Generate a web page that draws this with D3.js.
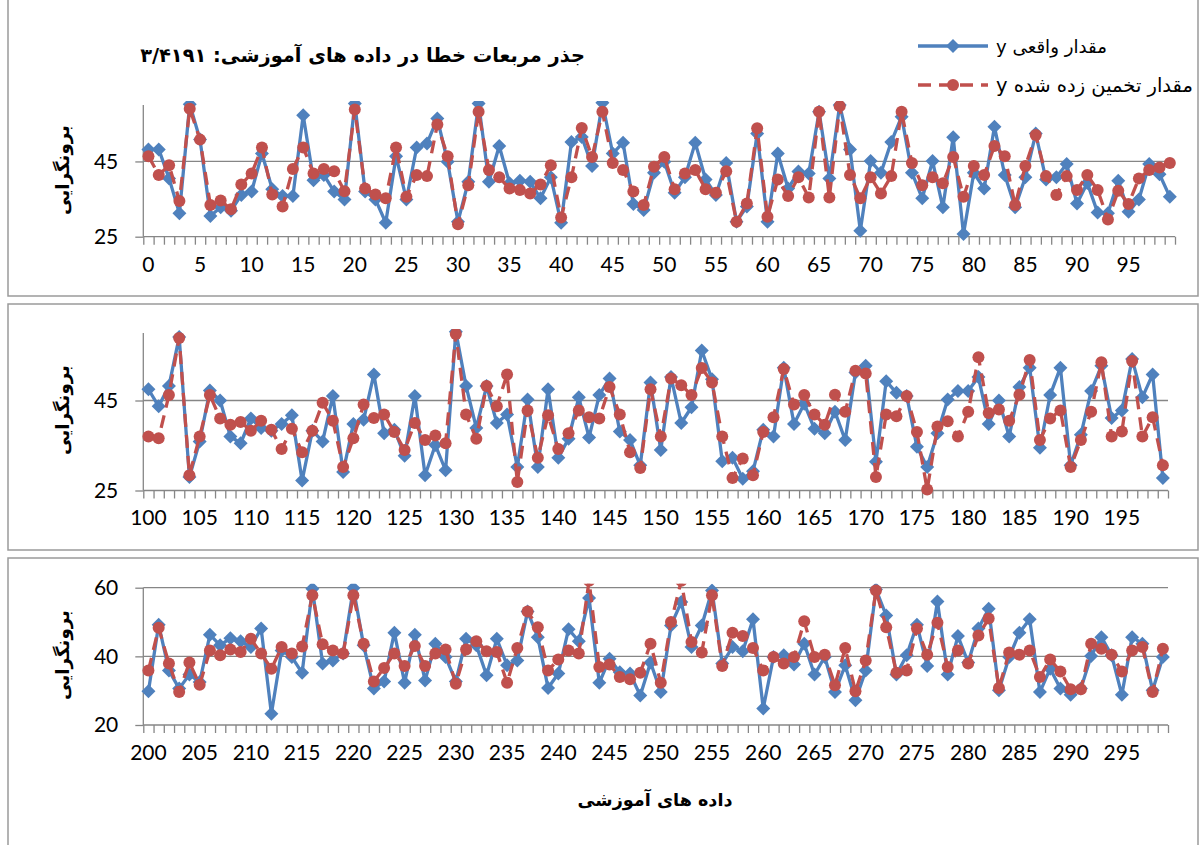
<!DOCTYPE html>
<html>
<head>
<meta charset="utf-8">
<script src="https://cdn.jsdelivr.net/npm/d3@7"></script>
<style>
  body { margin: 0; background: #fff; }
  svg { display: block; }
</style>
</head>
<body>
<div id="chart"></div>
<script>
// values, one array per panel and series

// training samples 0..99
const actual1 = [48.2, 48.2, 40.5, 31.2, 60.2, 50.8, 30.5, 32.8, 31.9, 36.1,
  37.0, 47.1, 37.6, 35.8, 35.8, 57.3, 40.0, 41.4, 37.0, 34.9,
  60.4, 37.0, 34.9, 28.7, 46.4, 34.9, 48.7, 49.8, 56.4, 44.9,
  29.0, 39.6, 60.4, 39.6, 49.1, 39.2, 39.9, 39.6, 35.2, 40.8,
  28.7, 50.2, 51.5, 43.8, 60.6, 47.1, 50.0, 33.7, 32.1, 42.0,
  44.9, 36.7, 40.8, 50.0, 40.2, 36.1, 44.6, 29.0, 33.0, 52.4,
  29.0, 47.1, 37.8, 42.3, 41.8, 58.2, 40.5, 60.0, 48.2, 26.6,
  45.1, 42.0, 50.2, 56.9, 42.0, 35.2, 45.1, 32.8, 51.4, 25.7,
  42.0, 37.8, 54.2, 41.4, 32.8, 40.8, 52.4, 40.2, 40.8, 44.3,
  33.8, 39.3, 31.4, 31.2, 39.9, 31.6, 34.9, 44.3, 41.6, 35.6];
const pred1 = [46.4, 41.4, 44.0, 34.5, 59.0, 50.8, 33.4, 34.6, 32.3, 38.9,
  41.8, 48.7, 36.2, 33.0, 43.0, 48.7, 41.8, 43.0, 42.4, 37.1,
  58.8, 37.8, 36.2, 35.2, 48.7, 35.6, 41.4, 41.1, 54.8, 46.4,
  28.3, 38.7, 58.2, 42.7, 40.8, 37.8, 37.4, 36.5, 38.9, 44.0,
  30.1, 40.8, 53.9, 46.2, 58.2, 44.6, 42.7, 37.0, 33.4, 43.6,
  46.2, 37.6, 41.8, 42.7, 37.6, 36.7, 42.4, 29.0, 33.8, 53.8,
  30.3, 40.2, 35.8, 40.8, 35.4, 58.2, 35.4, 59.7, 41.4, 35.2,
  40.8, 36.5, 41.1, 58.2, 44.6, 38.7, 40.8, 39.2, 46.2, 35.6,
  43.8, 41.4, 49.1, 46.4, 33.4, 43.8, 52.0, 41.1, 36.1, 41.1,
  37.4, 41.4, 37.4, 29.6, 37.2, 33.7, 40.5, 42.7, 43.4, 44.6];

// training samples 100..199
const actual2 = [47.5, 43.7, 48.2, 59.1, 28.0, 35.9, 47.2, 45.0, 37.0, 35.5,
  41.0, 38.9, 38.3, 39.8, 41.7, 27.2, 38.3, 35.9, 46.0, 29.1,
  39.8, 40.7, 50.8, 37.7, 38.5, 32.7, 46.0, 28.4, 35.1, 29.5,
  60.3, 48.2, 38.9, 48.2, 40.0, 41.9, 30.2, 45.2, 30.2, 47.5,
  32.3, 36.5, 45.7, 36.8, 46.2, 49.9, 38.1, 36.2, 30.6, 49.0,
  34.0, 50.2, 40.0, 43.5, 56.1, 49.7, 31.5, 32.3, 27.6, 29.3,
  38.5, 37.0, 52.3, 39.8, 44.3, 38.7, 37.7, 42.5, 36.2, 51.2,
  52.7, 31.4, 49.3, 46.7, 46.0, 34.7, 30.2, 37.7, 45.2, 47.1,
  47.1, 50.2, 39.8, 45.0, 37.0, 48.0, 52.3, 34.5, 46.2, 52.3,
  30.6, 37.4, 47.1, 52.7, 41.1, 42.8, 54.2, 45.7, 50.8, 27.8];
const pred2 = [37.0, 36.6, 46.2, 58.9, 28.4, 37.0, 46.2, 41.0, 39.6, 40.2,
  38.3, 40.5, 38.5, 34.2, 38.7, 33.5, 38.3, 44.5, 40.5, 30.2,
  36.6, 44.1, 41.1, 41.9, 38.0, 34.0, 40.0, 36.2, 37.2, 35.5,
  59.8, 41.9, 36.5, 48.2, 43.7, 50.8, 26.9, 42.8, 32.3, 41.7,
  34.2, 37.7, 42.8, 41.3, 41.0, 48.0, 41.9, 33.5, 30.0, 47.5,
  37.0, 49.9, 48.4, 46.2, 52.2, 49.0, 37.0, 27.8, 32.1, 28.4,
  38.0, 41.3, 52.0, 44.1, 46.2, 41.9, 39.6, 46.3, 42.5, 51.6,
  51.0, 28.0, 41.9, 41.5, 46.0, 38.0, 25.2, 39.2, 40.4, 37.0,
  42.5, 54.6, 42.2, 43.0, 40.5, 46.3, 54.0, 36.2, 41.0, 42.8,
  30.2, 36.2, 42.5, 53.5, 37.0, 38.1, 53.8, 37.0, 41.3, 30.6];

// training samples 200..299
const actual3 = [29.8, 49.2, 35.9, 30.6, 34.7, 32.5, 46.3, 43.2, 45.3, 44.4,
  42.7, 48.1, 23.3, 41.7, 39.8, 35.2, 59.7, 37.9, 38.8, 40.8,
  59.9, 43.2, 30.6, 32.7, 46.9, 32.3, 46.3, 33.0, 43.7, 39.8,
  32.7, 45.1, 43.2, 34.5, 45.1, 37.4, 38.8, 53.1, 45.6, 30.8,
  35.0, 47.9, 44.4, 57.0, 32.3, 39.3, 35.4, 35.0, 28.6, 38.2,
  29.6, 49.0, 55.8, 42.7, 49.0, 59.2, 37.9, 42.7, 41.5, 50.8,
  24.8, 39.8, 40.3, 37.6, 43.7, 34.7, 39.8, 29.6, 37.4, 27.2,
  35.9, 59.5, 51.9, 34.7, 40.3, 49.2, 37.2, 56.0, 34.7, 45.9,
  38.2, 48.1, 53.9, 30.1, 39.8, 46.9, 50.8, 29.6, 36.4, 30.6,
  28.8, 30.6, 40.1, 45.6, 40.3, 28.8, 45.6, 43.7, 30.1, 39.8];
const pred3 = [35.9, 48.3, 37.9, 29.6, 38.2, 31.7, 41.7, 40.3, 42.0, 41.3,
  45.1, 40.8, 36.4, 42.7, 40.8, 42.9, 57.8, 43.5, 41.7, 40.8,
  57.8, 43.7, 32.7, 36.6, 40.8, 37.2, 43.0, 37.2, 40.8, 42.0,
  32.0, 42.0, 44.4, 41.5, 41.3, 32.3, 42.4, 53.1, 48.5, 35.9,
  39.1, 41.7, 40.8, 62.0, 36.9, 37.6, 34.0, 33.3, 35.2, 43.7,
  32.3, 50.0, 62.0, 44.2, 41.1, 57.8, 37.2, 46.9, 45.9, 42.4,
  35.9, 39.8, 37.9, 39.8, 50.2, 39.8, 40.5, 31.6, 42.4, 29.8,
  38.8, 59.2, 48.5, 35.2, 35.9, 48.1, 40.5, 49.8, 36.9, 41.7,
  37.9, 46.1, 51.0, 30.8, 41.1, 40.5, 41.7, 34.0, 39.1, 35.6,
  30.4, 30.4, 43.7, 42.2, 40.5, 35.6, 41.7, 42.7, 29.6, 42.2];

const panelStarts = [0, 100, 200];
const yDomains = [[25, 60], [25, 60], [20, 60]];
const yTicks = [[25, 45], [25, 45], [20, 40, 60]];

const titleText = "جذر مربعات خطا در داده های آموزشی:  ۳/۴۱۹۱";
const legendLabels = ["مقدار واقعی y", "مقدار تخمین زده شده y"];
const yTitle = "برونگرایی";
const xTitle = "داده های آموزشی";

////////////////////////////////////////////////////////////////////////
// layout

const width = 1200, height = 845;
const blue = "#4f81bd", red = "#c0504d", grid = "#868686";
const numFont = "Lato, 'Open Sans', sans-serif";
const faFont = "'DejaVu Sans', sans-serif";

const layout = [
  { box: [8, -2, 1190, 298], x0: 143.3, x1: 1175, yTop: 105, yBot: 236.7, titleY: 170 },
  { box: [8, 304, 1190, 246], x0: 143.3, x1: 1168, yTop: 333, yBot: 490.5, titleY: 410 },
  { box: [8, 558, 1190, 300], x0: 143.3, x1: 1168, yTop: 587.7, yBot: 725, titleY: 655 }
];

const svg = d3.select("#chart").append("svg")
  .attr("width", width)
  .attr("height", height);

// shrink or grow a text until it covers the width seen in the reference
function fitWidth(sel, target) {
  const node = sel.node();
  const fs = parseFloat(sel.attr("font-size"));
  const w = node.getComputedTextLength();
  if (w > 0) sel.attr("font-size", fs * target / w);
}

const diamond = "M0,-7L7,0L0,7L-7,0Z";
const dotR = 6;
const dashes = "13,8";

const panelData = [[actual1, pred1], [actual2, pred2], [actual3, pred3]];

panelData.forEach(function(series, p) {
  const L = layout[p];
  const start = panelStarts[p];
  const cats = d3.range(start, start + series[0].length);

  const g = svg.append("g");

  g.append("rect")
    .attr("x", L.box[0]).attr("y", L.box[1])
    .attr("width", L.box[2]).attr("height", L.box[3])
    .attr("fill", "#fff")
    .attr("stroke", "#9a9a9a")
    .attr("stroke-width", 1.5);

  const x = d3.scaleBand().domain(cats).range([L.x0, L.x1]).padding(0);
  const xEdge = d3.scaleLinear().domain([start, start + cats.length]).range([L.x0, L.x1]);
  const y = d3.scaleLinear().domain(yDomains[p]).range([L.yBot, L.yTop]);
  const cx = d => x(d) + x.bandwidth() / 2;

  // gridlines
  g.append("g").selectAll("line")
    .data(yTicks[p].filter(t => t !== yDomains[p][0]))
    .join("line")
    .attr("x1", L.x0).attr("x2", L.x1)
    .attr("y1", d => y(d)).attr("y2", d => y(d))
    .attr("stroke", grid).attr("stroke-width", 1.3);

  // y axis
  const yAxis = g.append("g")
    .attr("transform", `translate(${L.x0},0)`)
    .call(d3.axisLeft(y).tickValues(yTicks[p]).tickSize(8).tickPadding(17).tickFormat(d3.format("d")));
  yAxis.select(".domain").attr("stroke", grid).attr("stroke-width", 1.3)
    .attr("d", `M0,${L.yTop}V${L.yBot}`);
  yAxis.selectAll(".tick line").attr("stroke", grid).attr("stroke-width", 1.3);
  yAxis.selectAll("text").attr("font-family", numFont).attr("font-size", 21).attr("fill", "#000");

  // x axis: tick marks between categories, labels every fifth category
  const xTickAxis = g.append("g")
    .attr("transform", `translate(0,${L.yBot})`)
    .call(d3.axisBottom(xEdge).tickValues(d3.range(start, start + cats.length + 1)).tickSize(8).tickFormat(""));
  xTickAxis.select(".domain").attr("stroke", grid).attr("stroke-width", 1.3)
    .attr("d", `M${L.x0},0H${L.x1}`);
  xTickAxis.selectAll(".tick line").attr("stroke", grid).attr("stroke-width", 1.3);

  const xLabelAxis = g.append("g")
    .attr("transform", `translate(0,${L.yBot})`)
    .call(d3.axisBottom(x).tickValues(cats.filter(c => c % 5 === 0)).tickSize(0).tickPadding(20));
  xLabelAxis.select(".domain").remove();
  xLabelAxis.selectAll("text").attr("font-family", numFont).attr("font-size", 21).attr("fill", "#000");

  // y axis title
  const yt = g.append("text")
    .attr("transform", `translate(62,${L.titleY}) rotate(-90)`)
    .attr("text-anchor", "middle")
    .attr("dominant-baseline", "central")
    .attr("direction", "rtl")
    .attr("font-family", faFont)
    .attr("font-weight", "bold")
    .attr("font-size", 17)
    .text(yTitle);
  fitWidth(yt, 90);

  // series, clipped at the top of the plot area like Excel
  const clipId = "clip" + p;
  g.append("clipPath").attr("id", clipId)
    .append("rect")
    .attr("x", L.x0 - 10).attr("y", L.yTop - 4)
    .attr("width", L.x1 - L.x0 + 20).attr("height", L.yBot - L.yTop + 20);

  const plot = g.append("g").attr("clip-path", `url(#${clipId})`);
  const line = d3.line().x((d, i) => cx(cats[i])).y(d => y(d));

  plot.append("path")
    .datum(series[0])
    .attr("d", line)
    .attr("fill", "none")
    .attr("stroke", blue)
    .attr("stroke-width", 3.3)
    .attr("stroke-linejoin", "round");
  plot.append("g").selectAll("path")
    .data(series[0])
    .join("path")
    .attr("d", diamond)
    .attr("transform", (d, i) => `translate(${cx(cats[i])},${y(d)})`)
    .attr("fill", blue);

  plot.append("path")
    .datum(series[1])
    .attr("d", line)
    .attr("fill", "none")
    .attr("stroke", red)
    .attr("stroke-width", 3.3)
    .attr("stroke-dasharray", dashes)
    .attr("stroke-linejoin", "round");
  plot.append("g").selectAll("circle")
    .data(series[1])
    .join("circle")
    .attr("cx", (d, i) => cx(cats[i]))
    .attr("cy", d => y(d))
    .attr("r", dotR)
    .attr("fill", red);
});

////////////////////////////////////////////////////////////////////////
// title, legend and x axis title

const title = svg.append("text")
  .attr("x", 362.5).attr("y", 55)
  .attr("text-anchor", "middle")
  .attr("dominant-baseline", "central")
  .attr("direction", "rtl")
  .attr("font-family", faFont)
  .attr("font-weight", "bold")
  .attr("font-size", 20)
  .text(titleText);
fitWidth(title, 445);

const legend = svg.append("g");
const legendRows = [
  { y: 46, color: blue, dash: null, marker: "diamond", tx: 1051.5, tw: 111 },
  { y: 85, color: red, dash: dashes, marker: "circle", tx: 1094.5, tw: 197 }
];
legendRows.forEach(function(r, i) {
  legend.append("line")
    .attr("x1", 918).attr("x2", 988)
    .attr("y1", r.y).attr("y2", r.y)
    .attr("stroke", r.color)
    .attr("stroke-width", 3.3)
    .attr("stroke-dasharray", r.dash);
  if (r.marker === "diamond") {
    legend.append("path").attr("d", diamond)
      .attr("transform", `translate(953,${r.y})`).attr("fill", r.color);
  } else {
    legend.append("circle").attr("cx", 953).attr("cy", r.y).attr("r", dotR).attr("fill", r.color);
  }
  const t = legend.append("text")
    .attr("x", r.tx).attr("y", r.y)
    .attr("text-anchor", "middle")
    .attr("dominant-baseline", "central")
    .attr("direction", "rtl")
    .attr("font-family", faFont)
    .attr("font-size", 17)
    .text(legendLabels[i]);
  fitWidth(t, r.tw);
});

const xt = svg.append("text")
  .attr("x", 655).attr("y", 800)
  .attr("text-anchor", "middle")
  .attr("dominant-baseline", "central")
  .attr("direction", "rtl")
  .attr("font-family", faFont)
  .attr("font-weight", "bold")
  .attr("font-size", 18)
  .text(xTitle);
fitWidth(xt, 155);
</script>
</body>
</html>
